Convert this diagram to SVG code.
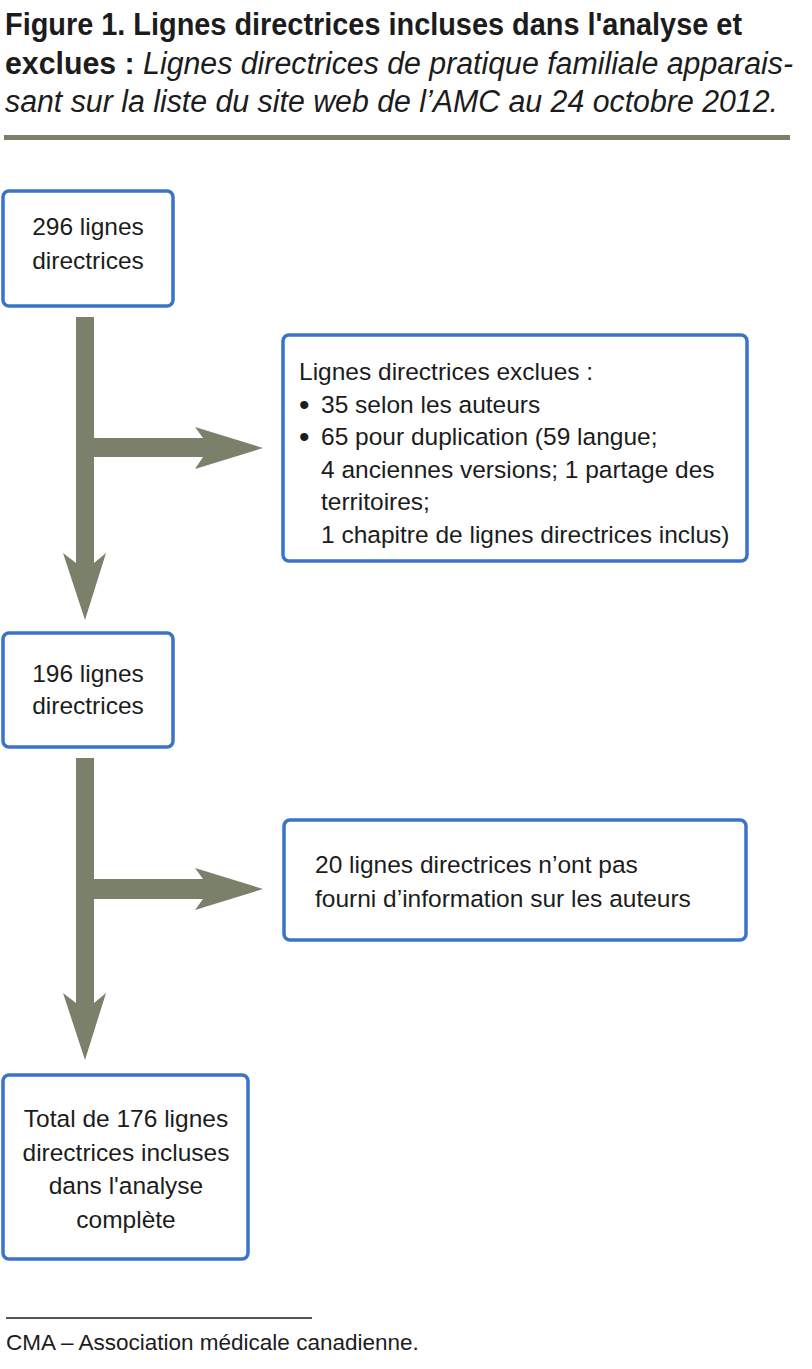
<svg xmlns="http://www.w3.org/2000/svg" width="812" height="1369" viewBox="0 0 812 1369">
<style>
.t{font-family:"Liberation Sans",Arial,sans-serif;fill:#1c1c1c}
.title{font-size:31px}
.b{font-weight:bold}
.i{font-style:italic}
.n{font-size:24.5px}
.c{text-anchor:middle}
.bul{font-size:30px}
.box{fill:#fff;stroke:#3a74c9;stroke-width:3.5}
.arr{fill:#7b806a}
</style>
<rect width="812" height="1369" fill="#fff"/>
<g id="title">
<text class="t title b" x="5" y="35" textLength="737" lengthAdjust="spacingAndGlyphs">Figure 1. Lignes directrices incluses dans l'analyse et</text>
<text class="t title" x="5" y="74" textLength="788" lengthAdjust="spacingAndGlyphs"><tspan class="b">exclues : </tspan><tspan class="i">Lignes directrices de pratique familiale apparais-</tspan></text>
<text class="t title i" x="5" y="112" textLength="773" lengthAdjust="spacingAndGlyphs">sant sur la liste du site web de l’AMC au 24 octobre 2012.</text>
<rect x="4" y="135" width="786" height="5" fill="#7b806a"/>
</g>
<g id="connectors">
<path class="arr" d="M76,317 H94 V438 H203 L195,427 L263,448 L195,469 L203,457 H94 V563 L106,553 L85,620 L63,553 L76,563 Z"/>
<path class="arr" d="M76,758 H94 V879 H203 L195,868 L263,889 L195,910 L203,899 H94 V1003 L106,993 L85,1060 L63,993 L76,1003 Z"/>
</g>
<g id="n1">
<rect class="box" x="3" y="191" width="170" height="115" rx="6"/>
<text class="t n c" x="88" y="235">296 lignes</text>
<text class="t n c" x="88" y="269">directrices</text>
</g>
<g id="n2">
<rect class="box" x="283" y="335" width="464" height="226" rx="6"/>
<text class="t n" x="299" y="380">Lignes directrices exclues :</text>
<text class="t bul" x="299" y="415">•</text>
<text class="t n" x="321" y="413">35 selon les auteurs</text>
<text class="t bul" x="299" y="447">•</text>
<text class="t n" x="321" y="445">65 pour duplication (59 langue;</text>
<text class="t n" x="321" y="478">4 anciennes versions; 1 partage des</text>
<text class="t n" x="321" y="510">territoires;</text>
<text class="t n" x="321" y="543">1 chapitre de lignes directrices inclus)</text>
</g>
<g id="n3">
<rect class="box" x="3" y="633" width="170" height="114" rx="6"/>
<text class="t n c" x="88" y="682">196 lignes</text>
<text class="t n c" x="88" y="714">directrices</text>
</g>
<g id="n4">
<rect class="box" x="284" y="820" width="462" height="120" rx="6"/>
<text class="t n" x="315" y="873">20 lignes directrices n’ont pas</text>
<text class="t n" x="315" y="907">fourni d’information sur les auteurs</text>
</g>
<g id="n5">
<rect class="box" x="3" y="1075" width="245" height="184" rx="6"/>
<text class="t n c" x="126" y="1127">Total de 176 lignes</text>
<text class="t n c" x="126" y="1161">directrices incluses</text>
<text class="t n c" x="126" y="1194">dans l'analyse</text>
<text class="t n c" x="126" y="1228">complète</text>
</g>
<g id="footer">
<rect x="6" y="1317" width="306" height="2" fill="#555"/>
<text class="t" x="6" y="1350" font-size="22.5">CMA – Association médicale canadienne.</text>
</g>
</svg>
